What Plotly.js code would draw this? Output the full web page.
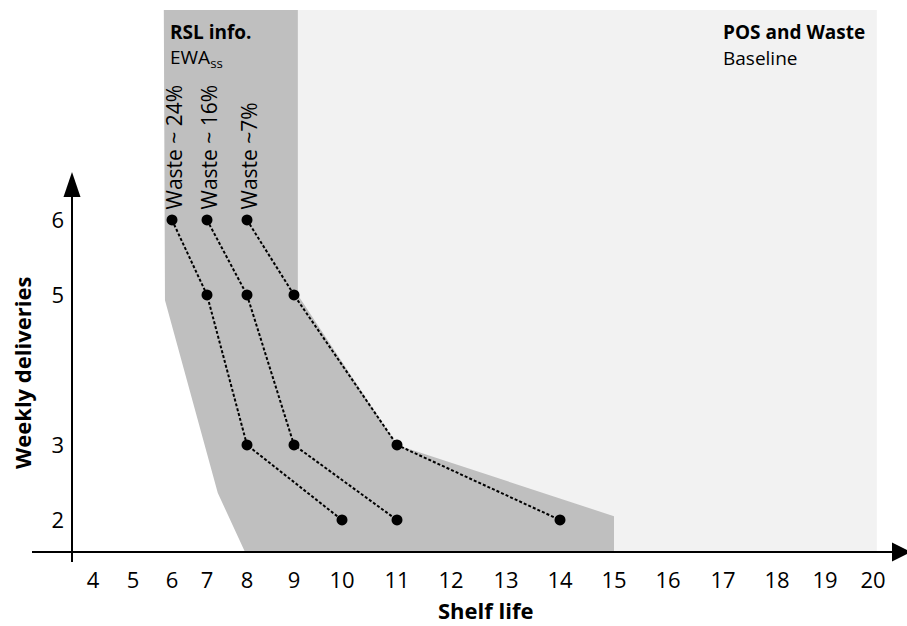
<!DOCTYPE html>
<html>
<head>
<meta charset="utf-8">
<script src="https://cdn.plot.ly/plotly-3.0.1.min.js"></script>
<style>html,body{margin:0;padding:0;background:#fff;}#chart{width:907px;height:626px;}</style>
</head>
<body>
<div id="chart"></div>
<script>
// ---------------- data ----------------
const SHELF_LIFE_TICKS = [4,5,6,7,8,9,10,11,12,13,14,15,16,17,18,19,20];
const DELIVERY_TICKS = [2,3,5,6];

const SERIES_LABELS = ['Waste ~ 24%', 'Waste ~ 16%', 'Waste ~7%'];
const WASTE24_SHELF = [6,7,8,10];
const WASTE24_DELIV = [6,5,3,2];
const WASTE16_SHELF = [7,8,9,11];
const WASTE16_DELIV = [6,5,3,2];
const WASTE7_SHELF  = [8,9,11,14];
const WASTE7_DELIV  = [6,5,3,2];

// shaded regions (shelf life, weekly deliveries)
const RSL_REGION_SHELF = [5.79, 9.08, 9.08, 11, 15, 15, 7.95, 7.27, 5.82];
const RSL_REGION_DELIV = [8.8, 8.8, 5.0, 3.0, 2.05, 1.573, 1.573, 2.36, 4.93];
const BASE_REGION_SHELF = [9.0, 20.08, 20.08, 9.0];
const BASE_REGION_DELIV = [8.8, 8.8, 1.573, 1.573];

// ---------------- scale ----------------
// The reference's shelf-life axis is hand-drawn and non-uniform: each tick
// value sits at its own position along the axis (axis units, 0..907).
const SHELF_AXIS_POS = [93,133,172,207,247,294,342,397,451,506,560,614,668,723,777,825,873];
function xs(v){
  const T = SHELF_LIFE_TICKS, P = SHELF_AXIS_POS, n = T.length;
  if (v <= T[0]) return P[0] + (v - T[0]) * (P[1]-P[0])/(T[1]-T[0]);
  for (let i = 0; i < n-1; i++){
    if (v <= T[i+1]) return P[i] + (v - T[i]) * (P[i+1]-P[i])/(T[i+1]-T[i]);
  }
  return P[n-1] + (v - T[n-1]) * (P[n-1]-P[n-2])/(T[n-1]-T[n-2]);
}

// ---------------- layout helpers ----------------
const W = 907, H = 626, MB = 74, PH = H - MB;
const px = x => x / W;              // pixel -> paper x
const py = y => (PH - y) / PH;      // pixel -> paper y
const FONT = 'Open Sans, Noto Sans, sans-serif';
const DARK = '#bfbfbf', LIGHT = '#f2f2f2';

const traces = [];
traces.push({type:'scatter', mode:'lines', x: BASE_REGION_SHELF.map(xs), y: BASE_REGION_DELIV,
  fill:'toself', fillcolor: LIGHT, line:{width:0}, hoverinfo:'skip', showlegend:false});
traces.push({type:'scatter', mode:'lines', x: RSL_REGION_SHELF.map(xs), y: RSL_REGION_DELIV,
  fill:'toself', fillcolor: DARK, line:{width:0}, hoverinfo:'skip', showlegend:false});

const SERIES = [[WASTE24_SHELF, WASTE24_DELIV],[WASTE16_SHELF, WASTE16_DELIV],[WASTE7_SHELF, WASTE7_DELIV]];
SERIES.forEach((s, i) => {
  traces.push({type:'scatter', mode:'lines+markers', name: SERIES_LABELS[i],
    x: s[0].map(xs), y: s[1],
    line:{color:'#000', width:2, dash:'3px,2px'},
    marker:{color:'#000', size:11}, showlegend:false});
});

const annotations = [];
SERIES.forEach((s, i) => {
  annotations.push({xref:'x', yref:'y', x: xs(s[0][0]), y: s[1][0], text: SERIES_LABELS[i],
    textangle:-90, showarrow:false, xanchor:'center', yanchor:'bottom', xshift:2, yshift:8,
    font:{family:FONT, size:21, color:'#000'}});
});
annotations.push({xref:'paper', yref:'paper', x:px(168), y:py(32), text:'<b>RSL info.</b>', showarrow:false,
  xanchor:'left', yanchor:'middle', font:{family:FONT, size:19, color:'#000'}});
annotations.push({xref:'paper', yref:'paper', x:px(168), y:py(58), text:'EWA<sub>ss</sub>', showarrow:false,
  xanchor:'left', yanchor:'middle', font:{family:FONT, size:19, color:'#000'}});
annotations.push({xref:'paper', yref:'paper', x:px(721), y:py(32), text:'<b>POS and Waste</b>', showarrow:false,
  xanchor:'left', yanchor:'middle', font:{family:FONT, size:19, color:'#000'}});
annotations.push({xref:'paper', yref:'paper', x:px(721), y:py(58), text:'Baseline', showarrow:false,
  xanchor:'left', yanchor:'middle', font:{family:FONT, size:19, color:'#000'}});
annotations.push({xref:'paper', yref:'paper', x:px(485), y:py(610), text:'<b>Shelf life</b>', showarrow:false,
  xanchor:'center', yanchor:'middle', font:{family:FONT, size:22, color:'#000'}});
annotations.push({xref:'paper', yref:'paper', x:px(22), y:py(373), text:'<b>Weekly deliveries</b>', showarrow:false,
  textangle:-90, xanchor:'center', yanchor:'middle', font:{family:FONT, size:22, color:'#000'}});

const shapes = [
  // x axis line + arrow
  {type:'line', xref:'paper', yref:'paper', x0:px(32), x1:px(895), y0:py(552), y1:py(552), line:{color:'#000', width:2}},
  {type:'path', xref:'paper', yref:'paper', path:`M ${px(892)} ${py(542.5)} L ${px(911)} ${py(552)} L ${px(892)} ${py(561.5)} Z`,
    fillcolor:'#000', line:{color:'#000', width:0}},
  // y axis line + arrow
  {type:'line', xref:'paper', yref:'paper', x0:px(72), x1:px(72), y0:py(562), y1:py(195), line:{color:'#000', width:2}},
  {type:'path', xref:'paper', yref:'paper', path:`M ${px(63.5)} ${py(197)} L ${px(72)} ${py(172)} L ${px(80.5)} ${py(197)} Z`,
    fillcolor:'#000', line:{color:'#000', width:0}}
];

const layout = {
  width: W, height: H,
  margin:{l:0, r:0, t:0, b:MB, pad:0},
  paper_bgcolor:'#fff', plot_bgcolor:'#fff',
  showlegend:false,
  xaxis:{range:[0, W], showgrid:false, zeroline:false, showline:false, ticks:'',
    tickmode:'array', tickvals: SHELF_LIFE_TICKS.map(xs), ticktext: SHELF_LIFE_TICKS.map(String),
    tickfont:{family:FONT, size:22, color:'#000'}, ticklabelstandoff:13, automargin:false, fixedrange:true},
  yaxis:{range:[1.573, 8.933], anchor:'free', position: px(72), side:'left',
    showgrid:false, zeroline:false, showline:false, ticks:'',
    tickmode:'array', tickvals: DELIVERY_TICKS, ticktext: DELIVERY_TICKS.map(String),
    tickfont:{family:FONT, size:22, color:'#000'}, ticklabelstandoff:8, automargin:false, fixedrange:true},
  annotations, shapes
};

Plotly.newPlot('chart', traces, layout, {displayModeBar:false, staticPlot:true});
</script>
</body>
</html>
